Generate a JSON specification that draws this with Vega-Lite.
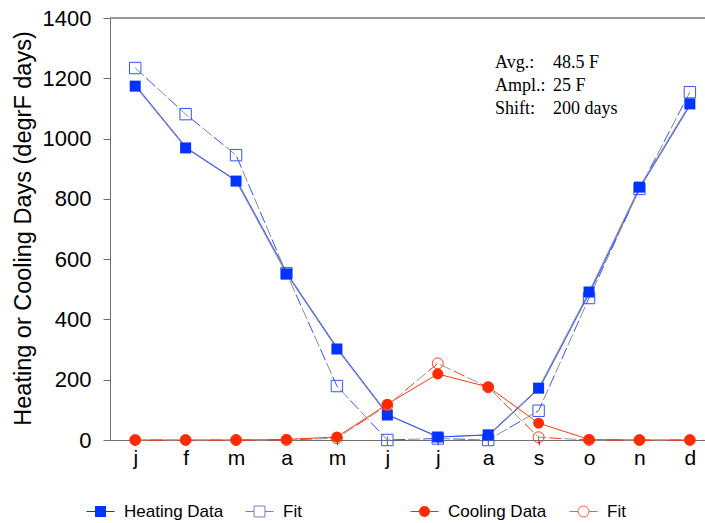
{
  "$schema": "https://vega.github.io/schema/vega-lite/v6.json",
  "autosize": {"type": "none"},
  "padding": {"left": 110, "top": 18, "right": 0, "bottom": 83},
  "width": 595,
  "height": 422,
  "background": "white",
  "config": {
    "view": {"stroke": null},
    "legend": {"title": null, "orient": "none", "legendY": 479, "symbolSize": 784, "symbolOpacity": 1, "symbolStrokeWidth": 1,
               "labelFont": "Liberation Sans", "labelFontSize": 17, "labelColor": "black", "labelOffset": 9}
  },
  "datasets": {
    "series": [
      {"m": 1, "series": "Heating Data", "v": 1174},
      {"m": 2, "series": "Heating Data", "v": 969},
      {"m": 3, "series": "Heating Data", "v": 859},
      {"m": 4, "series": "Heating Data", "v": 551},
      {"m": 5, "series": "Heating Data", "v": 302},
      {"m": 6, "series": "Heating Data", "v": 83},
      {"m": 7, "series": "Heating Data", "v": 10},
      {"m": 8, "series": "Heating Data", "v": 17},
      {"m": 9, "series": "Heating Data", "v": 172},
      {"m": 10, "series": "Heating Data", "v": 491},
      {"m": 11, "series": "Heating Data", "v": 839},
      {"m": 12, "series": "Heating Data", "v": 1115},
      {"m": 1, "series": "Heating Fit", "v": 1234},
      {"m": 2, "series": "Heating Fit", "v": 1081},
      {"m": 3, "series": "Heating Fit", "v": 945},
      {"m": 4, "series": "Heating Fit", "v": 553},
      {"m": 5, "series": "Heating Fit", "v": 179},
      {"m": 6, "series": "Heating Fit", "v": 0},
      {"m": 7, "series": "Heating Fit", "v": 5},
      {"m": 8, "series": "Heating Fit", "v": 0},
      {"m": 9, "series": "Heating Fit", "v": 97},
      {"m": 10, "series": "Heating Fit", "v": 471},
      {"m": 11, "series": "Heating Fit", "v": 833},
      {"m": 12, "series": "Heating Fit", "v": 1154},
      {"m": 1, "series": "Cooling Data", "v": 0},
      {"m": 2, "series": "Cooling Data", "v": 0},
      {"m": 3, "series": "Cooling Data", "v": 0},
      {"m": 4, "series": "Cooling Data", "v": 2},
      {"m": 5, "series": "Cooling Data", "v": 10},
      {"m": 6, "series": "Cooling Data", "v": 119},
      {"m": 7, "series": "Cooling Data", "v": 219},
      {"m": 8, "series": "Cooling Data", "v": 176},
      {"m": 9, "series": "Cooling Data", "v": 56},
      {"m": 10, "series": "Cooling Data", "v": 2},
      {"m": 11, "series": "Cooling Data", "v": 0},
      {"m": 12, "series": "Cooling Data", "v": 0},
      {"m": 1, "series": "Cooling Fit", "v": 0},
      {"m": 2, "series": "Cooling Fit", "v": 0},
      {"m": 3, "series": "Cooling Fit", "v": 0},
      {"m": 4, "series": "Cooling Fit", "v": 0},
      {"m": 5, "series": "Cooling Fit", "v": 6},
      {"m": 6, "series": "Cooling Fit", "v": 115},
      {"m": 7, "series": "Cooling Fit", "v": 254},
      {"m": 8, "series": "Cooling Fit", "v": 175},
      {"m": 9, "series": "Cooling Fit", "v": 9},
      {"m": 10, "series": "Cooling Fit", "v": 0},
      {"m": 11, "series": "Cooling Fit", "v": 0},
      {"m": 12, "series": "Cooling Fit", "v": 0}
    ],
    "note": [{"labels": "Avg.:|Ampl.:|Shift:", "vals": "48.5 F|25 F|200 days"}]
  },
  "data": {"name": "series"},
  "layer": [
    {
      "mark": {"type": "rule", "stroke": "#9a9a9a", "strokeWidth": 1.5},
      "encoding": {
        "y": {"datum": 1400, "type": "quantitative", "scale": {"domain": [0, 1400], "nice": false}, "title": "Heating or Cooling Days (degrF days)"},
        "x": {"datum": 0.5, "type": "quantitative", "scale": {"domain": [0.5, 12.3], "nice": false, "zero": false}, "title": null},
        "x2": {"datum": 12.3}
      }
    },
    {
      "transform": [{"filter": "datum.series == 'Heating Data'"}],
      "mark": {"type": "tick", "orient": "vertical", "size": 8, "thickness": 1, "color": "#6e6e6e", "opacity": 1},
      "encoding": {
        "x": {"field": "m", "type": "quantitative", "title": null, "scale": {"domain": [0.5, 12.3], "nice": false, "zero": false}},
        "y": {"datum": 0, "type": "quantitative", "title": "Heating or Cooling Days (degrF days)", "scale": {"domain": [0, 1400], "nice": false}}
      }
    },
    {
      "transform": [{"filter": "datum.series == 'Heating Data'"}],
      "mark": {"type": "line", "stroke": "#8c8c8c", "strokeWidth": 1},
      "encoding": {
        "x": {
          "field": "m", "type": "quantitative", "title": null,
          "scale": {"domain": [0.5, 12.3], "nice": false, "zero": false},
          "axis": {
            "values": [1, 2, 3, 4, 5, 6, 7, 8, 9, 10, 11, 12],
            "labelExpr": "['j','f','m','a','m','j','j','a','s','o','n','d'][datum.value - 1]",
            "title": null, "grid": false,
            "domainColor": "#6e6e6e", "tickColor": "#6e6e6e", "tickSize": 5,
            "labelFont": "Liberation Sans", "labelFontSize": 21, "labelColor": "black",
            "labelPadding": 2, "labelFlush": false, "labelOverlap": false
          }
        },
        "y": {
          "field": "v", "type": "quantitative", "title": "Heating or Cooling Days (degrF days)",
          "scale": {"domain": [0, 1400], "nice": false},
          "axis": {
            "values": [0, 100, 200, 300, 400, 500, 600, 700, 800, 900, 1000, 1100, 1200, 1300, 1400],
            "format": "d",
            "labelExpr": "datum.value % 200 == 0 ? datum.label : ''",
            "title": "Heating or Cooling Days (degrF days)",
            "titleFont": "Liberation Sans", "titleFontSize": 23.5, "titleFontWeight": "normal", "titleColor": "black",
            "titleX": -87, "titleY": 210, "titleBaseline": "middle", "titleAlign": "center",
            "grid": false,
            "domainColor": "#6e6e6e", "tickColor": "#6e6e6e",
            "tickSize": {"condition": {"test": "datum.value % 200 == 0", "value": 7}, "value": 4},
            "labelFont": "Liberation Sans", "labelFontSize": 22, "labelColor": "black",
            "labelPadding": 12, "labelFlush": false, "labelOverlap": false
          }
        }
      }
    },
    {
      "transform": [{"filter": "datum.series == 'Heating Data'"}],
      "mark": {"type": "line", "stroke": "#3350ff", "strokeWidth": 1, "xOffset": 1},
      "encoding": {
        "x": {"field": "m", "type": "quantitative", "title": null, "scale": {"domain": [0.5, 12.3], "nice": false, "zero": false}},
        "y": {"field": "v", "type": "quantitative", "title": "Heating or Cooling Days (degrF days)", "scale": {"domain": [0, 1400], "nice": false}}
      }
    },
    {
      "transform": [{"filter": "datum.series == 'Heating Fit'"}],
      "mark": {"type": "line", "stroke": "#8c8c8c", "strokeWidth": 1, "strokeDash": [12, 18]},
      "encoding": {
        "x": {"field": "m", "type": "quantitative", "title": null, "scale": {"domain": [0.5, 12.3], "nice": false, "zero": false}},
        "y": {"field": "v", "type": "quantitative", "title": "Heating or Cooling Days (degrF days)", "scale": {"domain": [0, 1400], "nice": false}}
      }
    },
    {
      "transform": [{"filter": "datum.series == 'Heating Fit'"}],
      "mark": {"type": "line", "stroke": "#3350ff", "strokeWidth": 1, "strokeDash": [12, 18], "strokeDashOffset": 15},
      "encoding": {
        "x": {"field": "m", "type": "quantitative", "title": null, "scale": {"domain": [0.5, 12.3], "nice": false, "zero": false}},
        "y": {"field": "v", "type": "quantitative", "title": "Heating or Cooling Days (degrF days)", "scale": {"domain": [0, 1400], "nice": false}}
      }
    },
    {
      "transform": [{"filter": "datum.series == 'Cooling Data'"}],
      "mark": {"type": "line", "stroke": "#ff3a10", "strokeWidth": 1},
      "encoding": {
        "x": {"field": "m", "type": "quantitative", "title": null, "scale": {"domain": [0.5, 12.3], "nice": false, "zero": false}},
        "y": {"field": "v", "type": "quantitative", "title": "Heating or Cooling Days (degrF days)", "scale": {"domain": [0, 1400], "nice": false}}
      }
    },
    {
      "transform": [{"filter": "datum.series == 'Cooling Fit'"}],
      "mark": {"type": "line", "stroke": "#9a9a9a", "strokeWidth": 1, "strokeDash": [12, 18]},
      "encoding": {
        "x": {"field": "m", "type": "quantitative", "title": null, "scale": {"domain": [0.5, 12.3], "nice": false, "zero": false}},
        "y": {"field": "v", "type": "quantitative", "title": "Heating or Cooling Days (degrF days)", "scale": {"domain": [0, 1400], "nice": false}}
      }
    },
    {
      "transform": [{"filter": "datum.series == 'Cooling Fit'"}],
      "mark": {"type": "line", "stroke": "#ff3a10", "strokeWidth": 1, "strokeDash": [12, 18], "strokeDashOffset": 15},
      "encoding": {
        "x": {"field": "m", "type": "quantitative", "title": null, "scale": {"domain": [0.5, 12.3], "nice": false, "zero": false}},
        "y": {"field": "v", "type": "quantitative", "title": "Heating or Cooling Days (degrF days)", "scale": {"domain": [0, 1400], "nice": false}}
      }
    },
    {
      "transform": [{"filter": "datum.series == 'Heating Fit'"}],
      "mark": {"type": "point", "shape": "square", "filled": false, "stroke": "#3355ff", "strokeWidth": 1, "size": 130, "opacity": 1},
      "encoding": {
        "x": {"field": "m", "type": "quantitative", "title": null, "scale": {"domain": [0.5, 12.3], "nice": false, "zero": false}},
        "y": {"field": "v", "type": "quantitative", "title": "Heating or Cooling Days (degrF days)", "scale": {"domain": [0, 1400], "nice": false}}
      }
    },
    {
      "transform": [{"filter": "datum.series == 'Heating Data'"}],
      "mark": {"type": "point", "shape": "square", "filled": true, "color": "#0033ff", "size": 121, "opacity": 1},
      "encoding": {
        "x": {"field": "m", "type": "quantitative", "title": null, "scale": {"domain": [0.5, 12.3], "nice": false, "zero": false}},
        "y": {"field": "v", "type": "quantitative", "title": "Heating or Cooling Days (degrF days)", "scale": {"domain": [0, 1400], "nice": false}}
      }
    },
    {
      "transform": [{"filter": "datum.series == 'Cooling Fit'"}],
      "mark": {"type": "point", "shape": "circle", "filled": false, "stroke": "#ff3a10", "strokeWidth": 1, "size": 120, "opacity": 1},
      "encoding": {
        "x": {"field": "m", "type": "quantitative", "title": null, "scale": {"domain": [0.5, 12.3], "nice": false, "zero": false}},
        "y": {"field": "v", "type": "quantitative", "title": "Heating or Cooling Days (degrF days)", "scale": {"domain": [0, 1400], "nice": false}}
      }
    },
    {
      "transform": [{"filter": "datum.series == 'Cooling Data'"}],
      "mark": {"type": "point", "shape": "circle", "filled": true, "color": "#ff2a00", "size": 120, "opacity": 1},
      "encoding": {
        "x": {"field": "m", "type": "quantitative", "title": null, "scale": {"domain": [0.5, 12.3], "nice": false, "zero": false}},
        "y": {"field": "v", "type": "quantitative", "title": "Heating or Cooling Days (degrF days)", "scale": {"domain": [0, 1400], "nice": false}}
      }
    },
    {
      "transform": [{"filter": "datum.series == 'Heating Data'"}],
      "mark": {"type": "point", "filled": true, "fill": "#0033ff", "opacity": 0},
      "encoding": {
        "x": {"field": "m", "type": "quantitative", "title": null, "scale": {"domain": [0.5, 12.3], "nice": false, "zero": false}},
        "y": {"field": "v", "type": "quantitative", "title": "Heating or Cooling Days (degrF days)", "scale": {"domain": [0, 1400], "nice": false}},
        "shape": {"field": "series", "type": "nominal",
          "scale": {"domain": ["Heating Data"], "range": ["M-1,-0.04H-0.39V0.04H-1ZM0.39,-0.04H1V0.04H0.39ZM-0.39,-0.39H0.39V0.39H-0.39Z"]},
          "legend": {"legendX": -24, "symbolFillColor": "#0033ff", "symbolStrokeColor": "#7f86b0"}}
      }
    },
    {
      "transform": [{"filter": "datum.series == 'Heating Fit'"}],
      "mark": {"type": "point", "filled": false, "stroke": "#6f80d8", "opacity": 0},
      "encoding": {
        "x": {"field": "m", "type": "quantitative", "title": null, "scale": {"domain": [0.5, 12.3], "nice": false, "zero": false}},
        "y": {"field": "v", "type": "quantitative", "title": "Heating or Cooling Days (degrF days)", "scale": {"domain": [0, 1400], "nice": false}},
        "shape": {"field": "series", "type": "nominal",
          "scale": {"domain": ["Heating Fit"], "range": ["M-1,0H-0.39M0.39,0H1M-0.39,-0.39H0.39V0.39H-0.39Z"]},
          "legend": {"legendX": 135, "labelExpr": "'Fit'", "symbolFillColor": "transparent", "symbolStrokeColor": "#6f80d8"}}
      }
    },
    {
      "transform": [{"filter": "datum.series == 'Cooling Data'"}],
      "mark": {"type": "point", "filled": true, "fill": "#ff2a00", "opacity": 0},
      "encoding": {
        "x": {"field": "m", "type": "quantitative", "title": null, "scale": {"domain": [0.5, 12.3], "nice": false, "zero": false}},
        "y": {"field": "v", "type": "quantitative", "title": "Heating or Cooling Days (degrF days)", "scale": {"domain": [0, 1400], "nice": false}},
        "shape": {"field": "series", "type": "nominal",
          "scale": {"domain": ["Cooling Data"], "range": ["M-1,-0.04H-0.39V0.04H-1ZM0.39,-0.04H1V0.04H0.39ZM0.39,0A0.39,0.39,0,1,1,-0.39,0A0.39,0.39,0,1,1,0.39,0Z"]},
          "legend": {"legendX": 300, "symbolFillColor": "#ff2a00", "symbolStrokeColor": "#ff5a3c"}}
      }
    },
    {
      "transform": [{"filter": "datum.series == 'Cooling Fit'"}],
      "mark": {"type": "point", "filled": false, "stroke": "#ff5a3c", "opacity": 0},
      "encoding": {
        "x": {"field": "m", "type": "quantitative", "title": null, "scale": {"domain": [0.5, 12.3], "nice": false, "zero": false}},
        "y": {"field": "v", "type": "quantitative", "title": "Heating or Cooling Days (degrF days)", "scale": {"domain": [0, 1400], "nice": false}},
        "shape": {"field": "series", "type": "nominal",
          "scale": {"domain": ["Cooling Fit"], "range": ["M-1,0H-0.39M1,0H0.39M0.39,0A0.39,0.39,0,1,1,-0.39,0A0.39,0.39,0,1,1,0.39,0Z"]},
          "legend": {"legendX": 459, "labelExpr": "'Fit'", "symbolFillColor": "transparent", "symbolStrokeColor": "#ff5a3c"}}
      }
    },
    {
      "data": {"name": "note"},
      "mark": {"type": "text", "align": "left", "baseline": "alphabetic", "font": "Liberation Serif", "fontSize": 18, "lineHeight": 23, "lineBreak": "|", "fill": "black"},
      "encoding": {
        "x": {"datum": 8.135, "type": "quantitative", "title": null, "scale": {"domain": [0.5, 12.3], "nice": false, "zero": false}},
        "y": {"datum": 1234, "type": "quantitative", "title": "Heating or Cooling Days (degrF days)", "scale": {"domain": [0, 1400], "nice": false}},
        "text": {"field": "labels", "type": "nominal"}
      }
    },
    {
      "data": {"name": "note"},
      "mark": {"type": "text", "align": "left", "baseline": "alphabetic", "font": "Liberation Serif", "fontSize": 18, "lineHeight": 23, "lineBreak": "|", "fill": "black"},
      "encoding": {
        "x": {"datum": 9.286, "type": "quantitative", "title": null, "scale": {"domain": [0.5, 12.3], "nice": false, "zero": false}},
        "y": {"datum": 1234, "type": "quantitative", "title": "Heating or Cooling Days (degrF days)", "scale": {"domain": [0, 1400], "nice": false}},
        "text": {"field": "vals", "type": "nominal"}
      }
    }
  ],
  "resolve": {"scale": {"shape": "independent"}, "legend": {"shape": "independent"}}
}
